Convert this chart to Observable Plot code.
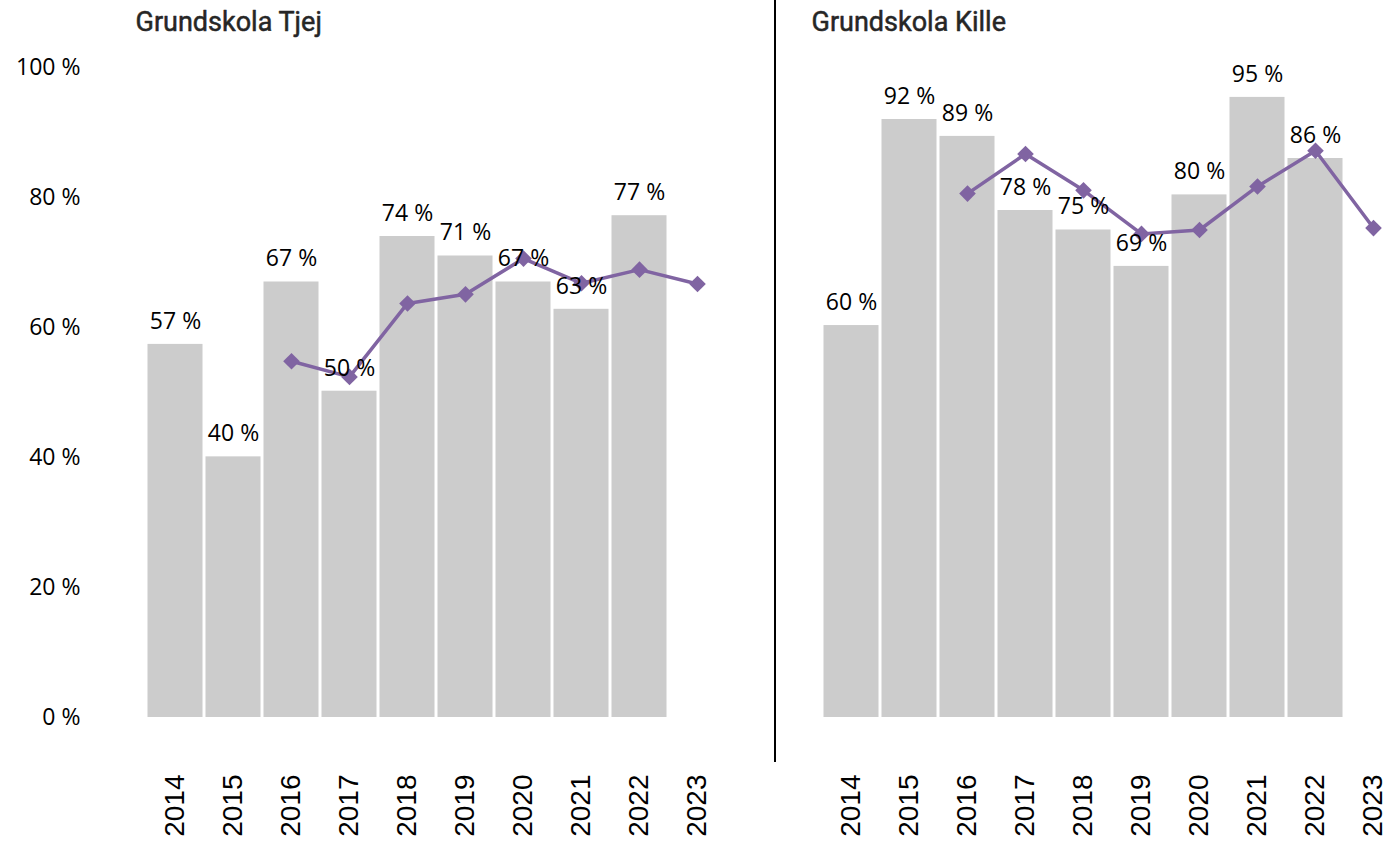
<!DOCTYPE html>
<html>
<head>
<meta charset="utf-8">
<script src="https://cdn.jsdelivr.net/npm/d3@7"></script>
<script src="https://cdn.jsdelivr.net/npm/@observablehq/plot@0.6"></script>
<style>
  html, body { margin: 0; padding: 0; background: #fff; overflow: hidden; }
  #wrap { position: relative; width: 1390px; height: 842px; overflow: hidden; }
  #wrap svg { max-width: none !important; display: block; }
  #divider { position: absolute; left: 774px; top: 0; width: 1.5px; height: 762px; background: #000; }
</style>
</head>
<body>
<div id="wrap"><div id="divider"></div></div>
<script>
const years = ["2014","2015","2016","2017","2018","2019","2020","2021","2022","2023"];
const panels = ["Grundskola Tjej", "Grundskola Kille"];
const tjejBars  = [57.4, 40.1, 67.0, 50.2, 74.0, 71.0, 67.0, 62.8, 77.2, null];
const killeBars = [60.3, 92.0, 89.4, 78.0, 75.0, 69.4, 80.4, 95.4, 86.0, null];
const tjejLine  = [null, null, 54.8, 52.4, 63.7, 65.1, 70.6, 66.8, 68.9, 66.7];
const killeLine = [null, null, 80.6, 86.7, 81.1, 74.4, 75.0, 81.7, 87.2, 75.3];
const yTicks = [0, 20, 40, 60, 80, 100];

const rows = [];
[[panels[0], tjejBars, tjejLine], [panels[1], killeBars, killeLine]].forEach(([p, b, l]) => {
  years.forEach((y, i) => rows.push({panel: p, year: y, bar: b[i], line: l[i]}));
});
const barRows = rows.filter(d => d.bar != null);
const lineRows = rows.filter(d => d.line != null);
const titles = panels.map(p => ({panel: p, title: p}));

const purple = "#8064a2";

const chart = Plot.plot({
  width: 1404,
  height: 842,
  marginLeft: 145.5,
  marginRight: 1.6,
  marginTop: 67,
  marginBottom: 125,
  style: {fontFamily: "'Open Sans', sans-serif", fontSize: "23px", color: "#000", background: "#fff"},
  fx: {domain: panels, paddingInner: 0.141, paddingOuter: 0, axis: null, label: null},
  x: {domain: years, paddingInner: 0.05, paddingOuter: 0, label: null},
  y: {domain: [0, 100], label: null},
  marks: [
    Plot.barY(barRows, {fx: "panel", x: "year", y: "bar", fill: "#cccccc"}),
    Plot.line(lineRows, {fx: "panel", x: "year", y: "line", stroke: purple, strokeWidth: 3.5}),
    Plot.dot(lineRows, {fx: "panel", x: "year", y: "line", symbol: "diamond2", r: 7.5, fill: purple, stroke: "none"}),
    Plot.text(barRows, {fx: "panel", x: "year", y: "bar", text: d => Math.round(d.bar) + " %", dy: -23, fill: "#000", fontSize: 23}),
    Plot.axisY(yTicks, {tickSize: 0, tickPadding: 66, tickFormat: d => d + " %", fontSize: 23, label: null}),
    Plot.axisX({tickSize: 0, tickPadding: 57, tickRotate: -90, fontSize: 28, fontFamily: "'Liberation Sans', Arial, sans-serif", label: null}),
    Plot.text(titles, {fx: "panel", text: "title", frameAnchor: "top-left", lineAnchor: "middle", dx: -11, dy: -45, textAnchor: "start", fontFamily: "Roboto, sans-serif", fontWeight: 400, fontSize: 27, fill: "#262626", stroke: "#262626", strokeWidth: 0.5})
  ]
});
chart.style.maxWidth = "none";
document.getElementById("wrap").prepend(chart);
</script>
</body>
</html>
